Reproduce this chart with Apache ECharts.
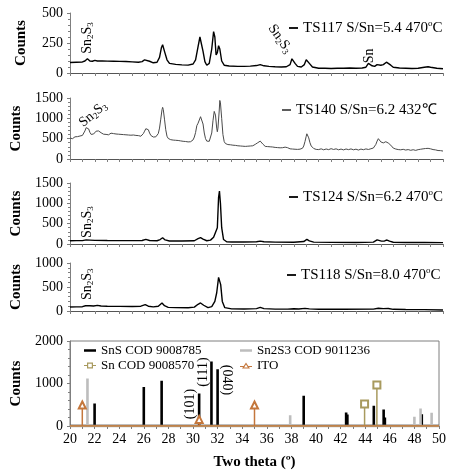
<!DOCTYPE html>
<html><head><meta charset="utf-8">
<script src="https://cdn.jsdelivr.net/npm/echarts@6/dist/echarts.min.js"></script>
<style>html,body{margin:0;padding:0;background:#fff}#c{width:449px;height:474px}</style>
</head><body><div id="c"></div>
<script>
// ---- measured patterns [two theta, counts] ----
const ts117 = [[20.0,88],[20.5,90],[21.0,92],[21.2,100],[21.4,118],[21.6,100],[21.8,98],[22.0,105],[22.2,100],[22.6,100],[23.0,99],[23.5,98],[24.0,97],[24.5,96],[25.0,93],[25.5,90],[25.8,95],[26.0,110],[26.15,112],[26.4,98],[26.7,85],[27.0,90],[27.2,130],[27.35,210],[27.45,235],[27.6,180],[27.8,110],[28.0,80],[28.5,72],[29.0,68],[29.5,66],[29.9,75],[30.1,110],[30.3,220],[30.45,300],[30.55,290],[30.7,180],[30.85,95],[31.0,65],[31.2,80],[31.4,200],[31.55,345],[31.65,300],[31.75,150],[31.85,170],[31.95,228],[32.05,200],[32.2,100],[32.4,65],[32.8,58],[33.5,55],[34.0,55],[34.5,57],[35.0,62],[35.3,70],[35.6,60],[36.0,55],[36.5,52],[37.0,50],[37.4,52],[37.7,70],[37.85,118],[37.95,124],[38.1,80],[38.3,55],[38.6,50],[38.85,70],[39.0,110],[39.1,115],[39.25,80],[39.5,50],[40.0,40],[40.5,40],[41.0,38],[41.5,40],[42.0,40],[42.5,42],[43.0,40],[43.5,42],[43.8,48],[44.0,80],[44.1,88],[44.3,60],[44.5,55],[44.7,70],[44.85,77],[45.0,65],[45.2,70],[45.45,90],[45.6,88],[45.8,65],[46.0,48],[46.5,42],[47.0,40],[47.5,38],[48.0,40],[48.5,48],[48.8,52],[49.0,48],[49.5,40],[50.0,35]];

const ts140 = [[20.0,515],[20.1,535],[20.2,500],[20.3,530],[20.4,545],[20.5,515],[20.6,550],[20.7,530],[20.8,565],[20.9,545],[21.0,580],[21.1,615],[21.2,690],[21.3,770],[21.4,815],[21.5,740],[21.6,655],[21.7,605],[21.8,640],[21.9,615],[22.0,660],[22.1,685],[22.2,705],[22.3,690],[22.4,670],[22.5,645],[22.6,650],[22.7,610],[22.8,640],[22.9,605],[23.0,630],[23.1,595],[23.2,625],[23.3,635],[23.4,600],[23.5,625],[23.6,595],[23.7,615],[23.8,585],[23.9,610],[24.0,580],[24.1,605],[24.2,575],[24.3,600],[24.4,570],[24.5,595],[24.6,565],[24.7,590],[24.8,560],[24.9,585],[25.0,565],[25.1,590],[25.2,555],[25.3,580],[25.4,550],[25.5,575],[25.6,585],[25.7,560],[25.8,595],[25.9,625],[26.0,685],[26.1,745],[26.2,765],[26.3,720],[26.4,640],[26.5,580],[26.6,550],[26.7,540],[26.8,530],[26.9,545],[27.0,565],[27.1,625],[27.2,760],[27.3,980],[27.4,1210],[27.45,1270],[27.5,1220],[27.6,980],[27.7,720],[27.8,560],[27.9,505],[28.0,490],[28.1,475],[28.2,500],[28.3,465],[28.4,490],[28.5,460],[28.6,480],[28.7,455],[28.8,475],[28.9,445],[29.0,465],[29.1,435],[29.2,460],[29.3,430],[29.4,450],[29.5,420],[29.6,445],[29.7,425],[29.8,450],[29.9,470],[30.0,540],[30.1,650],[30.2,820],[30.3,880],[30.4,920],[30.5,1040],[30.55,1060],[30.6,1020],[30.7,860],[30.8,640],[30.9,500],[31.0,440],[31.1,415],[31.2,435],[31.3,480],[31.4,640],[31.5,940],[31.6,1170],[31.65,1195],[31.7,1080],[31.8,760],[31.85,670],[31.9,760],[32.0,1180],[32.05,1440],[32.1,1380],[32.2,1000],[32.3,600],[32.4,430],[32.5,380],[32.6,365],[32.7,355],[32.8,380],[32.9,350],[33.0,370],[33.1,340],[33.2,365],[33.3,335],[33.4,355],[33.5,325],[33.6,350],[33.7,320],[33.8,340],[33.9,315],[34.0,340],[34.1,310],[34.2,335],[34.3,315],[34.4,340],[34.5,320],[34.6,345],[34.7,325],[34.8,350],[34.9,360],[35.0,380],[35.1,400],[35.2,430],[35.3,440],[35.4,410],[35.5,370],[35.6,330],[35.7,310],[35.8,290],[35.9,305],[36.0,280],[36.1,300],[36.2,275],[36.3,295],[36.4,265],[36.5,285],[36.6,260],[36.7,280],[36.8,255],[36.9,275],[37.0,258],[37.1,278],[37.2,282],[37.3,292],[37.4,296],[37.5,278],[37.6,262],[37.7,250],[37.8,266],[37.9,245],[38.0,262],[38.1,240],[38.2,258],[38.3,236],[38.4,255],[38.5,242],[38.6,252],[38.7,265],[38.8,320],[38.9,430],[39.0,560],[39.05,620],[39.1,600],[39.2,520],[39.3,400],[39.4,320],[39.5,280],[39.6,258],[39.7,248],[39.8,236],[39.9,252],[40.0,232],[40.2,250],[40.4,226],[40.6,246],[40.8,230],[41.0,254],[41.2,234],[41.4,250],[41.6,226],[41.8,244],[42.0,224],[42.2,246],[42.4,230],[42.6,248],[42.8,226],[43.0,242],[43.2,220],[43.4,244],[43.6,228],[43.8,248],[44.0,234],[44.2,252],[44.4,270],[44.5,300],[44.6,360],[44.7,440],[44.8,500],[44.85,505],[44.9,480],[45.0,420],[45.1,388],[45.2,396],[45.3,410],[45.4,425],[45.5,415],[45.6,392],[45.7,372],[45.8,340],[45.9,300],[46.0,268],[46.2,245],[46.4,232],[46.6,226],[46.8,238],[47.0,220],[47.2,232],[47.4,214],[47.6,228],[47.8,212],[48.0,230],[48.2,240],[48.4,250],[48.6,258],[48.8,262],[49.0,250],[49.2,232],[49.4,224],[49.6,208],[49.8,206],[50.0,195]];

const ts124 = [[20.0,80],[20.5,82],[21.0,84],[21.3,100],[21.45,120],[21.6,95],[22.0,88],[23.0,85],[24.0,84],[25.0,82],[25.8,85],[26.1,112],[26.4,85],[27.0,80],[27.25,110],[27.45,155],[27.65,100],[28.0,75],[29.0,72],[30.0,80],[30.3,130],[30.5,155],[30.7,120],[31.0,80],[31.3,95],[31.55,165],[31.7,150],[31.85,400],[31.95,1150],[32.02,1300],[32.1,1000],[32.2,400],[32.35,110],[32.6,55],[33.0,50],[34.0,48],[35.0,55],[35.3,72],[35.6,55],[36.5,45],[38.0,42],[38.8,60],[39.05,112],[39.25,75],[39.6,45],[41.0,40],[43.0,38],[44.4,45],[44.7,100],[44.85,114],[45.05,70],[45.3,75],[45.5,98],[45.7,70],[46.0,42],[47.0,38],[48.5,40],[50.0,33]];

const ts118 = [[20.0,83],[20.5,85],[21.0,90],[21.25,110],[21.4,145],[21.6,110],[21.9,105],[22.2,118],[22.5,105],[23.0,100],[24.0,97],[25.0,95],[25.7,100],[26.05,132],[26.3,100],[26.7,85],[27.1,100],[27.4,167],[27.6,110],[27.9,75],[28.5,70],[29.5,68],[30.0,80],[30.3,140],[30.5,167],[30.75,120],[31.1,70],[31.4,90],[31.65,200],[31.8,380],[31.95,700],[32.02,725],[32.12,550],[32.25,200],[32.45,70],[33.0,45],[34.0,42],[35.0,50],[35.3,76],[35.6,50],[36.5,40],[37.5,40],[38.0,48],[38.4,42],[38.9,55],[39.05,69],[39.25,45],[40.0,35],[42.0,35],[44.4,40],[44.8,56],[45.2,50],[45.6,52],[46.0,35],[47.0,30],[48.5,28],[50.0,21]];

// ---- reference patterns (stick positions / intensities) ----
const snsPos = [22.0, 26.0, 27.45, 30.5, 31.5, 32.0, 39.0, 42.45, 42.55, 44.7, 45.5, 45.6, 48.6];
const snsInt = [530, 920, 1065, 765, 1520, 1335, 710, 320, 270, 475, 390, 200, 275];
const sn2s3Pos = [21.42, 37.9, 48.0, 48.5, 49.4];
const sn2s3Int = [1115, 255, 220, 410, 310];
const snPos = [43.95, 44.95];
const snInt = [515, 965];
const itoPos = [21.0, 30.5, 35.0];
const itoInt = [495, 155, 495];

const names = ['TS117 S/Sn=5.4 470°C', 'TS140 S/Sn=6.2 432℃', 'TS124 S/Sn=6.2 470°C', 'TS118 S/Sn=8.0 470°C'];
const refNames = ['SnS COD 9008785', 'Sn2S3 COD 9011236', 'Sn COD 9008570', 'ITO'];

const FONT = '"Liberation Serif", "Times New Roman", serif';
const AX = '#7f7f7f';

function sticks(pos, val, withSym) {
  const d = [{value: [20, 0], symbol: 'none'}];
  pos.forEach((p, i) => {
    d.push({value: [p, 0], symbol: 'none'});
    d.push(withSym ? {value: [p, val[i]]} : {value: [p, val[i]], symbol: 'none'});
    d.push({value: [p, 0], symbol: 'none'});
  });
  d.push({value: [50, 0], symbol: 'none'});
  return d;
}

const chart = echarts.init(document.getElementById('c'));

const gridDefs = [
  {top: 13, height: 60},
  {top: 98, height: 61},
  {top: 183, height: 61},
  {top: 263, height: 48},
  {top: 341, height: 85}
];
const yMax = [500, 1500, 1500, 1000, 2000];
const yInt = [250, 500, 500, 500, 1000];

const grid = gridDefs.map((g, i) => ({
  left: 70, right: 6, top: g.top, height: g.height,
  show: i === 4, borderColor: AX, borderWidth: 1, backgroundColor: 'transparent'
}));

const xAxis = gridDefs.map((g, i) => ({
  type: 'value', gridIndex: i, min: 20, max: 50, interval: 1,
  axisLine: {show: true, onZero: false, lineStyle: {color: i === 4 ? AX : '#555', width: 1}},
  axisTick: {show: true, length: 3, lineStyle: {color: AX}},
  splitLine: {show: false},
  axisLabel: {
    show: i === 4, margin: 6, color: '#000', fontFamily: FONT, fontSize: 14,
    formatter: v => (v % 2 === 0 ? String(v) : '')
  },
  name: i === 4 ? 'Two theta (º)' : '',
  nameLocation: 'middle', nameGap: 29,
  nameTextStyle: {fontFamily: FONT, fontSize: 15, fontWeight: 'bold', color: '#000'}
}));

const yAxis = gridDefs.map((g, i) => ({
  type: 'value', gridIndex: i, min: 0, max: yMax[i], interval: yInt[i],
  axisLine: {show: true, lineStyle: {color: AX, width: 1}},
  axisTick: {show: true, length: 3, lineStyle: {color: AX}},
  minorTick: {show: true, splitNumber: 5, length: 2, lineStyle: {color: AX}},
  splitLine: {show: false},
  axisLabel: {margin: 7, color: '#000', fontFamily: FONT, fontSize: 14, formatter: v => String(v)},
  name: 'Counts', nameLocation: 'middle', nameGap: 41,
  nameTextStyle: {fontFamily: FONT, fontSize: 15, fontWeight: 'bold', color: '#000'}
}));

const mainData = [ts117, ts140, ts124, ts118];
const mainColor = ['#000', '#4a4a4a', '#000', '#000'];
const series = mainData.map((d, i) => ({
  type: 'line', name: names[i], xAxisIndex: i, yAxisIndex: i, data: d,
  symbol: 'none', animation: false,
  lineStyle: {color: mainColor[i], width: i === 1 ? 1 : 1.4},
  itemStyle: {color: mainColor[i]}
}));

series.push({
  type: 'line', name: refNames[0], xAxisIndex: 4, yAxisIndex: 4,
  data: sticks(snsPos, snsInt, false), symbol: 'none', animation: false,
  lineStyle: {color: '#000', width: 2.6, join: 'bevel'}, itemStyle: {color: '#000'}
});
series.push({
  type: 'line', name: refNames[1], xAxisIndex: 4, yAxisIndex: 4,
  data: sticks(sn2s3Pos, sn2s3Int, false), symbol: 'none', animation: false,
  lineStyle: {color: '#bdbdbd', width: 2.6, join: 'bevel'}, itemStyle: {color: '#bdbdbd'}
});
series.push({
  type: 'line', name: refNames[2], xAxisIndex: 4, yAxisIndex: 4,
  data: sticks(snPos, snInt, true), symbol: 'emptyRect', symbolSize: 7, showSymbol: true, animation: false,
  lineStyle: {color: '#a89a5e', width: 1.5}, itemStyle: {color: '#a89a5e', borderWidth: 1.2}
});
series.push({
  type: 'line', name: refNames[3], xAxisIndex: 4, yAxisIndex: 4,
  data: sticks(itoPos, itoInt, true), symbol: 'emptyTriangle', symbolSize: 7, showSymbol: true, animation: false,
  lineStyle: {color: '#c4773c', width: 1.5}, itemStyle: {color: '#c4773c', borderWidth: 1.2}
});

// legend icons (line only, line with hollow square, line with hollow triangle)
const LINE_ICON = 'rect';
const THICK_LINE_ICON = 'path://M0,0L0.01,0L0,0.01Z M0,2.3L12,2.3L12,4.7L0,4.7Z M12,7L11.99,7L12,6.99Z';
const SQ_ICON = 'path://M0,3L3,3L3,0.5L9,0.5L9,3L12,3L12,4L9,4L9,6.5L3,6.5L3,4L0,4Z M4.2,1.7L4.2,5.3L7.8,5.3L7.8,1.7Z';
const TRI_ICON = 'path://M0,3.8L3.7,3.8L6,0.3L8.3,3.8L12,3.8L12,4.8L9,4.8L10,6.5L2,6.5L3,4.8L0,4.8Z M6,2.4L4.1,5.5L7.9,5.5Z';

const legTxt = {fontFamily: FONT, fontSize: 15, color: '#000', lineHeight: 18,
  rich: {sup: {fontFamily: FONT, fontSize: 9, lineHeight: 9, verticalAlign: 'top', color: '#000'}}};
const legTop = [19, 101, 188, 266];
const legLeft = [289, 282, 289, 287];
const legend = names.map((n, i) => ({
  data: [{name: n, icon: LINE_ICON}], left: legLeft[i], top: legTop[i], padding: 0,
  itemWidth: 9, itemHeight: 1.8,
  textStyle: legTxt, formatter: s => s.replace('°', '{sup|o}'), selectedMode: false
}));
const bTxt = {fontFamily: FONT, fontSize: 13, color: '#000'};
legend.push({
  data: [{name: refNames[0], icon: THICK_LINE_ICON}, {name: refNames[2], icon: SQ_ICON}],
  orient: 'vertical', left: 84, top: 344, padding: 0,
  itemGap: 2, itemWidth: 12, itemHeight: 7, textStyle: bTxt, selectedMode: false
});
legend.push({
  data: [{name: refNames[1], icon: THICK_LINE_ICON}, {name: refNames[3], icon: TRI_ICON}],
  orient: 'vertical', left: 240, top: 344, padding: 0,
  itemGap: 2, itemWidth: 12, itemHeight: 7, textStyle: bTxt, selectedMode: false
});

chart.setOption({animation: false, backgroundColor: '#fff', grid, xAxis, yAxis, series, legend});

// ---- text annotations anchored in data coordinates ----
const annos = [
  {g: 0, x: 21.37, y: 291, t: 'Sn{s|2}S{s|3}', r: 90},
  {g: 0, x: 36.9, y: 285, t: 'Sn{s|2}S{s|3}', r: -55},
  {g: 0, x: 44.1, y: 143, t: 'Sn', r: 90},
  {g: 1, x: 21.85, y: 1101, t: 'Sn{s|2}S{s|3}', r: 40},
  {g: 2, x: 21.37, y: 538, t: 'Sn{s|2}S{s|3}', r: 90},
  {g: 3, x: 21.37, y: 556, t: 'Sn{s|2}S{s|3}', r: 90},
  {g: 4, x: 29.75, y: 518, t: '(101)', r: 90},
  {g: 4, x: 30.86, y: 1271, t: '(111)', r: 90},
  {g: 4, x: 32.7, y: 1082, t: '(040)', r: -90}
];
const graphic = annos.map(a => {
  const p = chart.convertToPixel({gridIndex: a.g}, [a.x, a.y]);
  return {
    type: 'text', x: p[0], y: p[1], rotation: a.r * Math.PI / 180, silent: true,
    style: {
      text: a.t, fill: '#000', fontFamily: FONT, fontSize: 14, lineHeight: 16, align: 'center', verticalAlign: 'middle',
      rich: {s: {fontFamily: FONT, fontSize: 9, lineHeight: 9, verticalAlign: 'bottom', fill: '#000'}}
    }
  };
});
chart.setOption({graphic});
</script></body></html>
